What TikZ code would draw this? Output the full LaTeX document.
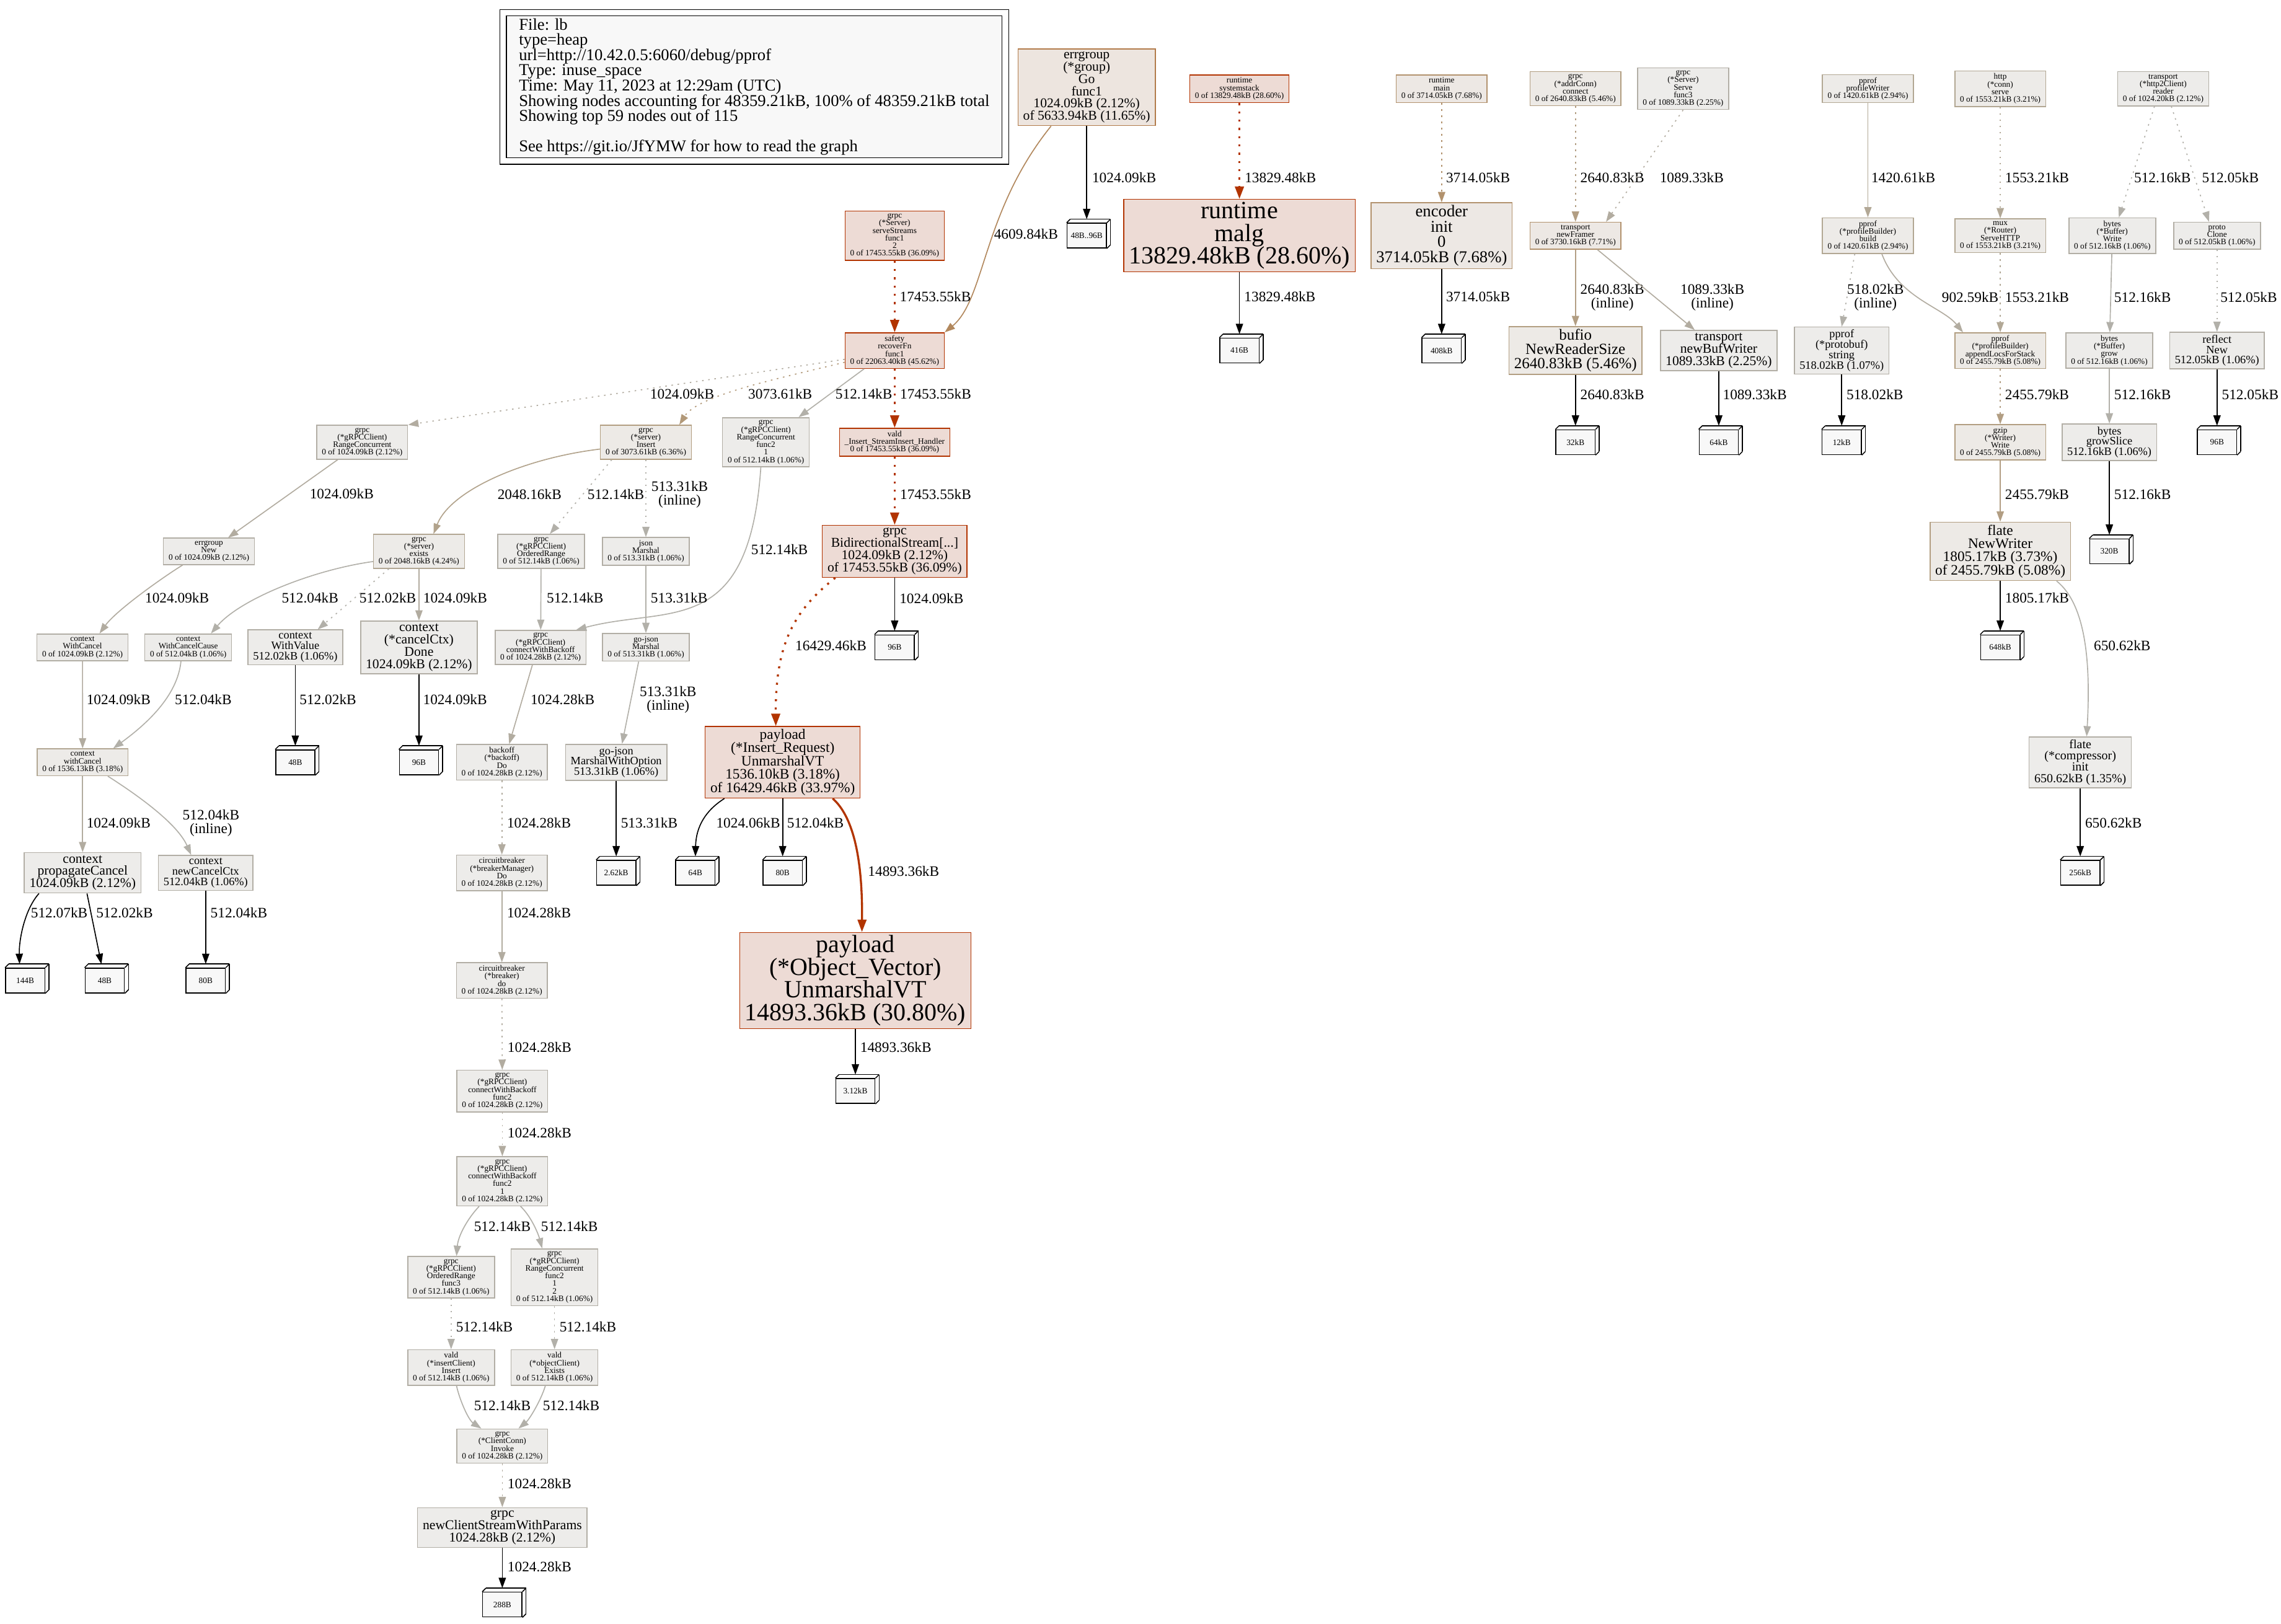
\documentclass[tikz,border=0pt]{standalone}
\usepackage{fontspec}
\setmainfont{Liberation Serif}
\usepackage{tikz}
\usetikzlibrary{arrows.meta,calc}

\definecolor{hotfill}{HTML}{EDDBD5}
\definecolor{hotedge}{HTML}{B23300}
\definecolor{warmAfill}{HTML}{EDE5DF}
\definecolor{warmAedge}{HTML}{B27B4A}
\definecolor{warmBfill}{HTML}{EDE8E4}
\definecolor{warmBedge}{HTML}{B2926D}
\definecolor{warmCfill}{HTML}{EDEAE6}
\definecolor{warmCedge}{HTML}{B29E81}
\definecolor{warmDfill}{HTML}{EDEBE8}
\definecolor{warmDedge}{HTML}{B2A793}
\definecolor{coolfill}{HTML}{EDECEA}
\definecolor{cooledge}{HTML}{B2AEA5}
\definecolor{tagfill}{HTML}{F8F8F8}
\definecolor{eHot}{HTML}{B23400}
\definecolor{eT1}{HTML}{B2885D}
\definecolor{eT2}{HTML}{B2926D}
\definecolor{eT3}{HTML}{B29979}
\definecolor{eT4}{HTML}{B29E83}
\definecolor{eT5}{HTML}{B2A38C}
\definecolor{eG1}{HTML}{B2A896}
\definecolor{eG2}{HTML}{B2ACA0}
\definecolor{eG3}{HTML}{B2B0A9}

\newcommand{\pfsize}[1]{\fontsize{#1}{#1}\selectfont\baselineskip=0.92\baselineskip\lineskiplimit=-10pt\relax}

\begin{document}
\begin{tikzpicture}[
    x=1.408pt, y=-1.408pt,
    fn/.style={rectangle, draw, line width=0.9pt, align=center, inner xsep=5pt, inner ysep=2.5pt, font=\pfsize{8}},
    hot/.style={fn, fill=hotfill, draw=hotedge},
    warmA/.style={fn, fill=warmAfill, draw=warmAedge},
    warmB/.style={fn, fill=warmBfill, draw=warmBedge},
    warmC/.style={fn, fill=warmCfill, draw=warmCedge},
    warmD/.style={fn, fill=warmDfill, draw=warmDedge},
    cool/.style={fn, fill=coolfill, draw=cooledge},
    sz/.style={font=\pfsize{#1}},
    leafside/.style={draw=black, line width=0.9pt},
    leaf/.style={rectangle, draw=black, fill=tagfill, line width=0.9pt, minimum width=38pt, minimum height=24pt, inner sep=1pt, font=\pfsize{8},
        append after command={
            (\tikzlastnode.north west) edge[leafside] ([shift={(2.5,-2.5)}]\tikzlastnode.north west)
            (\tikzlastnode.north east) edge[leafside] ([shift={(2.5,-2.5)}]\tikzlastnode.north east)
            (\tikzlastnode.south east) edge[leafside] ([shift={(2.5,-2.5)}]\tikzlastnode.south east)
            ([shift={(2.5,-2.5)}]\tikzlastnode.north west) edge[leafside] ([shift={(2.5,-2.5)}]\tikzlastnode.north east)
            ([shift={(2.5,-2.5)}]\tikzlastnode.north east) edge[leafside] ([shift={(2.5,-2.5)}]\tikzlastnode.south east)
        }},
    legendbox/.style={rectangle, draw=black, line width=0.8pt, double=white, double distance=5.5pt, fill=tagfill, align=left, minimum width=486pt, minimum height=143.6pt, inner sep=0pt, font=\pfsize{16}},
    lab/.style={anchor=west, inner sep=0pt, align=center, text=black, font=\pfsize{14}},
    arr/.style={-{Triangle[length=10pt, width=7pt]}, line width=1pt},
    resid/.style={dash pattern=on 1.5pt off 4.5pt},
    bold/.style={line width=2pt, -{Triangle[length=12pt, width=8.5pt]}},
    bolddots/.style={bold, dash pattern=on 2pt off 6pt},
    tag/.style={arr, black, shorten >=3.5pt},
]
\path[use as bounding box, fill=white] (0,0) rectangle (1568,1116);

\node[legendbox] (legend) at (518.5,59.7) {File: lb\\type=heap\\url=http://10.42.0.5:6060/debug/pprof\\Type: inuse\_space\\Time: May 11, 2023 at 12:29am (UTC)\\Showing nodes accounting for 48359.21kB, 100\% of 48359.21kB total\\Showing top 59 nodes out of 115\\\mbox{}\\See https://git.io/JfYMW for how to read the graph};

\node[warmA, sz=13] (errgo) at (747,60) {errgroup\\(*group)\\Go\\func1\\1024.09kB (2.12\%)\\of 5633.94kB (11.65\%)};
\node[leaf] (leafErrgo) at (747,162) {48B..96B};
\node[hot] (sysstack) at (852,61) {runtime\\systemstack\\0 of 13829.48kB (28.60\%)};
\node[hot, sz=24] (malg) at (852,162) {runtime\\malg\\13829.48kB (28.60\%)};
\node[leaf] (leafMalg) at (852,241) {416B};
\node[warmB] (rtmain) at (991,61) {runtime\\main\\0 of 3714.05kB (7.68\%)};
\node[warmB, sz=16] (encinit) at (991,162) {encoder\\init\\0\\3714.05kB (7.68\%)};
\node[leaf] (leafEnc) at (991,241) {408kB};
\node[warmC] (addrconn) at (1083,61) {grpc\\(*addrConn)\\connect\\0 of 2640.83kB (5.46\%)};
\node[cool] (serve3) at (1157,61) {grpc\\(*Server)\\Serve\\func3\\0 of 1089.33kB (2.25\%)};
\node[warmB] (framer) at (1083,162) {transport\\newFramer\\0 of 3730.16kB (7.71\%)};
\node[warmC, sz=15] (bufio) at (1083,241) {bufio\\NewReaderSize\\2640.83kB (5.46\%)};
\node[leaf] (leafBufio) at (1083,304) {32kB};
\node[cool, sz=13] (bufwriter) at (1181.5,241) {transport\\newBufWriter\\1089.33kB (2.25\%)};
\node[leaf] (leafBufw) at (1181.5,304) {64kB};
\node[warmD] (profwriter) at (1284,61) {pprof\\profileWriter\\0 of 1420.61kB (2.94\%)};
\node[warmD] (build) at (1284,162) {pprof\\(*profileBuilder)\\build\\0 of 1420.61kB (2.94\%)};
\node[cool, sz=11] (pbstring) at (1266,241) {pprof\\(*protobuf)\\string\\518.02kB (1.07\%)};
\node[leaf] (leafPb) at (1266,304) {12kB};
\node[warmD] (connserve) at (1375,61) {http\\(*conn)\\serve\\0 of 1553.21kB (3.21\%)};
\node[warmD] (mux) at (1375,162) {mux\\(*Router)\\ServeHTTP\\0 of 1553.21kB (3.21\%)};
\node[warmC] (appendlocs) at (1375,241) {pprof\\(*profileBuilder)\\appendLocsForStack\\0 of 2455.79kB (5.08\%)};
\node[warmC] (gzipw) at (1375,304) {gzip\\(*Writer)\\Write\\0 of 2455.79kB (5.08\%)};
\node[warmC, sz=14] (flatenw) at (1375,379) {flate\\NewWriter\\1805.17kB (3.73\%)\\of 2455.79kB (5.08\%)};
\node[leaf] (leafFlate) at (1375,445) {648kB};
\node[cool, sz=12] (flateinit) at (1430,524) {flate\\(*compressor)\\init\\650.62kB (1.35\%)};
\node[leaf] (leafInit) at (1430,600) {256kB};
\node[cool] (h2reader) at (1487,61) {transport\\(*http2Client)\\reader\\0 of 1024.20kB (2.12\%)};
\node[cool] (bufwrite) at (1452,162) {bytes\\(*Buffer)\\Write\\0 of 512.16kB (1.06\%)};
\node[cool] (bufgrow) at (1450,241) {bytes\\(*Buffer)\\grow\\0 of 512.16kB (1.06\%)};
\node[cool, sz=11] (growslice) at (1450,304) {bytes\\growSlice\\512.16kB (1.06\%)};
\node[leaf] (leafGrow) at (1450,379) {320B};
\node[cool] (protoclone) at (1524,162) {proto\\Clone\\0 of 512.05kB (1.06\%)};
\node[cool, sz=11] (reflectnew) at (1524,241) {reflect\\New\\512.05kB (1.06\%)};
\node[leaf] (leafReflect) at (1524,304) {96B};

\node[hot] (serveStreams) at (615,162) {grpc\\(*Server)\\serveStreams\\func1\\2\\0 of 17453.55kB (36.09\%)};
\node[hot] (recoverfn) at (615,241) {safety\\recoverFn\\func1\\0 of 22063.40kB (45.62\%)};
\node[hot] (handler) at (615,304) {vald\\\_Insert\_StreamInsert\_Handler\\0 of 17453.55kB (36.09\%)};
\node[hot, sz=13] (bidi) at (615,379) {grpc\\BidirectionalStream[...]\\1024.09kB (2.12\%)\\of 17453.55kB (36.09\%)};
\node[leaf] (leafBidi) at (615,445) {96B};
\node[hot, sz=14] (insreq) at (538,524) {payload\\(*Insert\_Request)\\UnmarshalVT\\1536.10kB (3.18\%)\\of 16429.46kB (33.97\%)};
\node[leaf] (leafInsA) at (478,600) {64B};
\node[leaf] (leafInsB) at (538,600) {80B};
\node[hot, sz=24] (objvec) at (588,674) {payload\\(*Object\_Vector)\\UnmarshalVT\\14893.36kB (30.80\%)};
\node[leaf] (leafObj) at (588,750) {3.12kB};

\node[cool] (rcLeft) at (249,304) {grpc\\(*gRPCClient)\\RangeConcurrent\\0 of 1024.09kB (2.12\%)};
\node[warmC] (srvInsert) at (444,304) {grpc\\(*server)\\Insert\\0 of 3073.61kB (6.36\%)};
\node[cool] (rcFunc2) at (526.5,304) {grpc\\(*gRPCClient)\\RangeConcurrent\\func2\\1\\0 of 512.14kB (1.06\%)};
\node[cool] (egNew) at (143.6,379) {errgroup\\New\\0 of 1024.09kB (2.12\%)};
\node[warmD] (exists) at (288,379) {grpc\\(*server)\\exists\\0 of 2048.16kB (4.24\%)};
\node[cool] (ordRange) at (372,379) {grpc\\(*gRPCClient)\\OrderedRange\\0 of 512.14kB (1.06\%)};
\node[cool] (jsonMarshal) at (444,379) {json\\Marshal\\0 of 513.31kB (1.06\%)};
\node[cool] (wcancel) at (56.7,445) {context\\WithCancel\\0 of 1024.09kB (2.12\%)};
\node[cool] (wcCause) at (129.4,445) {context\\WithCancelCause\\0 of 512.04kB (1.06\%)};
\node[cool, sz=11] (wvalue) at (203,445) {context\\WithValue\\512.02kB (1.06\%)};
\node[cool, sz=13] (cdone) at (288,445) {context\\(*cancelCtx)\\Done\\1024.09kB (2.12\%)};
\node[cool] (cwb) at (371.6,445) {grpc\\(*gRPCClient)\\connectWithBackoff\\0 of 1024.28kB (2.12\%)};
\node[cool] (gojson) at (444,445) {go-json\\Marshal\\0 of 513.31kB (1.06\%)};
\node[warmD] (wcLower) at (56.8,524) {context\\withCancel\\0 of 1536.13kB (3.18\%)};
\node[leaf] (leafValue) at (203,524) {48B};
\node[leaf] (leafDone) at (288,524) {96B};
\node[cool] (backoffDo) at (345,524) {backoff\\(*backoff)\\Do\\0 of 1024.28kB (2.12\%)};
\node[cool, sz=11] (marshalOpt) at (423.6,524) {go-json\\MarshalWithOption\\513.31kB (1.06\%)};
\node[cool, sz=13] (propCancel) at (56.8,600) {context\\propagateCancel\\1024.09kB (2.12\%)};
\node[cool, sz=11] (newCancel) at (141.4,600) {context\\newCancelCtx\\512.04kB (1.06\%)};
\node[leaf] (leafJson) at (423.6,600) {2.62kB};
\node[cool] (brkMgr) at (345,600) {circuitbreaker\\(*breakerManager)\\Do\\0 of 1024.28kB (2.12\%)};
\node[leaf] (leafProp1) at (17.3,674) {144B};
\node[leaf] (leafProp2) at (72,674) {48B};
\node[leaf] (leafNew) at (141.4,674) {80B};
\node[cool] (brkDo) at (345,674) {circuitbreaker\\(*breaker)\\do\\0 of 1024.28kB (2.12\%)};
\node[cool] (cwbF2) at (345.3,750) {grpc\\(*gRPCClient)\\connectWithBackoff\\func2\\0 of 1024.28kB (2.12\%)};
\node[cool] (cwbF21) at (345.3,812) {grpc\\(*gRPCClient)\\connectWithBackoff\\func2\\1\\0 of 1024.28kB (2.12\%)};
\node[cool] (ordF3) at (310.1,878) {grpc\\(*gRPCClient)\\OrderedRange\\func3\\0 of 512.14kB (1.06\%)};
\node[cool] (rcF212) at (381.2,878) {grpc\\(*gRPCClient)\\RangeConcurrent\\func2\\1\\2\\0 of 512.14kB (1.06\%)};
\node[cool] (insClient) at (310.1,940) {vald\\(*insertClient)\\Insert\\0 of 512.14kB (1.06\%)};
\node[cool] (objClient) at (381.2,940) {vald\\(*objectClient)\\Exists\\0 of 512.14kB (1.06\%)};
\node[cool] (invoke) at (345.3,994) {grpc\\(*ClientConn)\\Invoke\\0 of 1024.28kB (2.12\%)};
\node[cool, sz=13] (newStream) at (345.3,1050) {grpc\\newClientStreamWithParams\\1024.28kB (2.12\%)};
\node[leaf] (leafStream) at (345.3,1103) {288B};

\draw[tag] (errgo) -- (leafErrgo) node[lab] at (750.4,122) {1024.09kB};
\draw[arr, eT1] ($(errgo.south)+(-24.5,0)$) .. controls +(-47.5,59) and +(28,-23) .. (recoverfn.north east) node[lab] at (683,161) {4609.84kB};
\draw[arr, bolddots, eHot] (sysstack) -- (malg) node[lab] at (855,122) {13829.48kB};
\draw[tag] (malg) -- (leafMalg) node[lab] at (855,204) {13829.48kB};
\draw[arr, resid, eT2] (rtmain) -- (encinit) node[lab] at (993.7,122) {3714.05kB};
\draw[tag] (encinit) -- (leafEnc) node[lab] at (993.7,204) {3714.05kB};
\draw[arr, resid, eT4] (addrconn) -- (framer) node[lab] at (1086,122) {2640.83kB};
\draw[arr, resid, eG2] (serve3.south) -- ($(framer.north)+(21,0)$) node[lab] at (1140.6,122) {1089.33kB};
\draw[arr, eT4] (framer) -- (bufio) node[lab] at (1086,204.5) {2640.83kB\\(inline)};
\draw[arr, eG2] ($(framer.south)+(15,0)$) -- ($(bufwriter.north)+(-16.5,0)$) node[lab] at (1154.8,204.5) {1089.33kB\\(inline)};
\draw[tag] (bufio) -- (leafBufio) node[lab] at (1086,271.4) {2640.83kB};
\draw[tag] (bufwriter) -- (leafBufw) node[lab] at (1184,271.4) {1089.33kB};
\draw[arr, eG1] (profwriter) -- (build) node[lab] at (1286,122) {1420.61kB};
\draw[arr, resid, eG3] ($(build.south)+(-9,0)$) -- (pbstring.north) node[lab] at (1269.4,204.5) {518.02kB\\(inline)};
\draw[tag] (pbstring) -- (leafPb) node[lab] at (1269,271.4) {518.02kB};
\draw[arr, eG2] ($(build.south)+(9.6,0)$) .. controls +(11.4,30.3) and +(-14.4,-17.6) .. ($(appendlocs.north)+(-25.6,0)$) node[lab] at (1334.5,204.4) {902.59kB};
\draw[arr, resid, eG1] (connserve) -- (mux) node[lab] at (1378,122) {1553.21kB};
\draw[arr, resid, eG1] (mux) -- (appendlocs) node[lab] at (1378,204.4) {1553.21kB};
\draw[arr, resid, eT4] (appendlocs) -- (gzipw) node[lab] at (1378,271.4) {2455.79kB};
\draw[arr, eT4] (gzipw) -- (flatenw) node[lab] at (1378,340) {2455.79kB};
\draw[tag] (flatenw) -- (leafFlate) node[lab] at (1378,411) {1805.17kB};
\draw[arr, eG3] ($(flatenw.south)+(38.7,0)$) .. controls +(21.3,17) and +(2.6,-46.4) .. ($(flateinit.north)+(4.4,0)$) node[lab] at (1439,444) {650.62kB};
\draw[tag] (flateinit) -- (leafInit) node[lab] at (1433,565.5) {650.62kB};
\draw[arr, resid, eG3] ($(h2reader.south)+(-6,0)$) -- ($(bufwrite.north)+(4.5,0)$) node[lab] at (1466.7,122) {512.16kB};
\draw[arr, resid, eG3] ($(h2reader.south)+(5.6,0)$) -- ($(protoclone.north)+(-5.5,0)$) node[lab] at (1513.4,122) {512.05kB};
\draw[arr, eG3] (bufwrite) -- (bufgrow) node[lab] at (1453,204.4) {512.16kB};
\draw[arr, resid, eG3] (protoclone) -- (reflectnew) node[lab] at (1526,204.4) {512.05kB};
\draw[arr, eG3] (bufgrow) -- (growslice) node[lab] at (1453,271.4) {512.16kB};
\draw[tag] (growslice) -- (leafGrow) node[lab] at (1453,340) {512.16kB};
\draw[tag] (reflectnew) -- (leafReflect) node[lab] at (1527,271.4) {512.05kB};

\draw[arr, bolddots, eHot] (serveStreams) -- (recoverfn) node[lab] at (617.8,204) {17453.55kB};
\draw[arr, bolddots, eHot] (recoverfn) -- (handler) node[lab] at (618,271) {17453.55kB};
\draw[arr, resid, eG2] ($(recoverfn.west)+(0,6)$) -- (rcLeft.north east) node[lab] at (446.6,271) {1024.09kB};
\draw[arr, resid, eT3] ($(recoverfn.west)+(0,8)$) .. controls +(-39.5,10) and +(13,-21) .. ($(srvInsert.north)+(23,0)$) node[lab] at (514,271) {3073.61kB};
\draw[arr, eG3] ($(recoverfn.south)+(-21,0)$) -- ($(rcFunc2.north)+(22.5,0)$) node[lab] at (574,271) {512.14kB};
\draw[arr, bolddots, eHot] (handler) -- (bidi) node[lab] at (618,340) {17453.55kB};
\draw[tag] (bidi) -- (leafBidi) node[lab] at (618,411.6) {1024.09kB};
\draw[arr, bolddots, eHot] ($(bidi.south)+(-40.8,0)$) .. controls +(-29.2,23) and +(-0.3,-55.5) .. ($(insreq.north)+(-4.7,0)$) node[lab] at (546,444) {16429.46kB};
\draw[tag] ($(insreq.south)+(-40,0)$) .. controls +(-12.8,8) and +(0.4,-23) .. (leafInsA.north) node[lab] at (492,565.5) {1024.06kB};
\draw[tag] (insreq) -- (leafInsB) node[lab] at (540.7,565.5) {512.04kB};
\draw[arr, bold, eHot] ($(insreq.south)+(34.4,0)$) .. controls +(13.6,12) and +(0.5,-52.3) .. ($(objvec.north)+(4.5,0)$) node[lab] at (596,598.8) {14893.36kB};
\draw[tag] (objvec) -- (leafObj) node[lab] at (591,719.8) {14893.36kB};

\draw[arr, eG2] (rcLeft) -- (egNew) node[lab] at (212.6,339.6) {1024.09kB};
\draw[arr, eT5] ($(srvInsert.west)+(0,4.7)$) .. controls +(-52.3,6.3) and +(11.7,-30) .. ($(exists.north)+(10,0)$) node[lab] at (341.7,340) {2048.16kB};
\draw[arr, resid, eG3] ($(srvInsert.south)+(-23.5,0)$) -- ($(ordRange.north)+(6,0)$) node[lab] at (403.5,340) {512.14kB};
\draw[arr, resid, eG3] (srvInsert) -- (jsonMarshal) node[lab] at (447.4,340) {513.31kB\\(inline)};
\draw[arr, eG3] ($(rcFunc2.south)+(-3.5,0)$) .. controls +(-8,118.5) and +(64,-17) .. ($(cwb.north)+(24.4,0)$) node[lab] at (516,377.6) {512.14kB};
\draw[arr, eG2] ($(egNew.south)+(-18,0)$) .. controls +(-13.5,8.3) and +(11.6,-16) .. ($(wcancel.north)+(11.7,0)$) node[lab] at (99.4,411) {1024.09kB};
\draw[arr, eG3] ($(exists.west)+(0,7)$) .. controls +(-41.2,5.7) and +(20,-23.6) .. ($(wcCause.north)+(15.6,0)$) node[lab] at (193.3,411) {512.04kB};
\draw[arr, resid, eG3] ($(exists.south)+(-20.7,0)$) -- ($(wvalue.north)+(15.4,0)$) node[lab] at (246.7,411) {512.02kB};
\draw[arr, eG2] (exists) -- (cdone) node[lab] at (290.6,411) {1024.09kB};
\draw[arr, eG3] (ordRange) -- (cwb) node[lab] at (375.5,411) {512.14kB};
\draw[arr, eG3] (jsonMarshal) -- (gojson) node[lab] at (447,411) {513.31kB};
\draw[arr, eG2] (wcancel) -- (wcLower) node[lab] at (59.2,481) {1024.09kB};
\draw[arr, eG3] ($(wcCause.south)+(-5,0)$) .. controls +(-2.4,24.3) and +(22.3,-16.3) .. ($(wcLower.north)+(21,0)$) node[lab] at (119.9,481) {512.04kB};
\draw[tag] (wvalue) -- (leafValue) node[lab] at (205.6,481) {512.02kB};
\draw[tag] (cdone) -- (leafDone) node[lab] at (290.5,481) {1024.09kB};
\draw[arr, eG2] ($(cwb.south)+(-5.6,0)$) -- ($(backoffDo.north)+(5,0)$) node[lab] at (364.4,481) {1024.28kB};
\draw[arr, eG3] ($(gojson.south)+(-5,0)$) -- ($(marshalOpt.north)+(4,0)$) node[lab] at (439.4,481) {513.31kB\\(inline)};
\draw[arr, eG2] (wcLower) -- (propCancel) node[lab] at (59.2,565.7) {1024.09kB};
\draw[arr, eG3] ($(wcLower.south)+(17.3,0)$) .. controls +(20.9,13.3) and +(-9.5,-21.5) .. ($(newCancel.north)+(-10,0)$) node[lab] at (125.2,565.7) {512.04kB\\(inline)};
\draw[arr, resid, eG2] (backoffDo) -- (brkMgr) node[lab] at (348.2,565.7) {1024.28kB};
\draw[tag] (marshalOpt) -- (leafJson) node[lab] at (426.5,565.7) {513.31kB};
\draw[tag] ($(propCancel.south)+(-30,0)$) .. controls +(-9.9,11.1) and +(-0.5,-19.2) .. ($(leafProp1.north)+(-3.8,0)$) node[lab] at (20.9,627.6) {512.07kB};
\draw[tag] ($(propCancel.south)+(3,0)$) -- (leafProp2) node[lab] at (65.8,627.6) {512.02kB};
\draw[tag] (newCancel) -- (leafNew) node[lab] at (144.4,627.6) {512.04kB};
\draw[arr, eG2] (brkMgr) -- (brkDo) node[lab] at (348.2,627.6) {1024.28kB};
\draw[arr, resid, eG2] (brkDo) -- (cwbF2) node[lab] at (348.6,719.7) {1024.28kB};
\draw[arr, resid, eG2] (cwbF2) -- (cwbF21) node[lab] at (348.6,778.6) {1024.28kB};
\draw[arr, eG3] ($(cwbF21.south)+(-15.9,0)$) .. controls +(-7.4,7.7) and +(1.2,-14.4) .. ($(ordF3.north)+(3.7,0)$) node[lab] at (325.5,843) {512.14kB};
\draw[arr, eG3] ($(cwbF21.south)+(12.5,0)$) .. controls +(7.2,6.7) and +(-2.7,-10.1) .. ($(rcF212.north)+(-8.5,0)$) node[lab] at (371.6,843) {512.14kB};
\draw[arr, resid, eG3] (ordF3) -- (insClient) node[lab] at (313.2,912) {512.14kB};
\draw[arr, resid, eG3] (rcF212) -- (objClient) node[lab] at (384.3,912) {512.14kB};
\draw[arr, eG3] ($(insClient.south)+(3.7,0)$) .. controls +(2.2,10) and +(-8.9,-6) .. ($(invoke.north)+(-14.4,0)$) node[lab] at (325.5,966) {512.14kB};
\draw[arr, eG3] ($(objClient.south)+(-6.3,0)$) .. controls +(-2.9,9.8) and +(7.6,-6.4) .. ($(invoke.north)+(11.1,0)$) node[lab] at (372.8,966) {512.14kB};
\draw[arr, resid, eG2] (invoke) -- (newStream) node[lab] at (348.6,1020) {1024.28kB};
\draw[tag] (newStream) -- (leafStream) node[lab] at (348.6,1077) {1024.28kB};
\end{tikzpicture}
\end{document}
